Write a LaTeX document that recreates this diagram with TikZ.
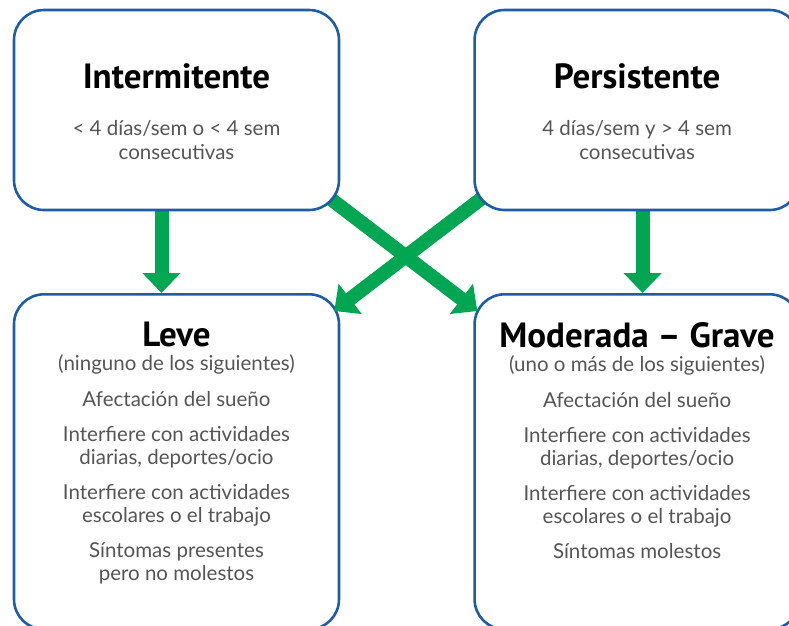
\documentclass[tikz,border=0pt]{standalone}
\usepackage{fontspec}
\setmainfont{Lato}
\newfontfamily\titlefont{PT Sans}
\usetikzlibrary{arrows.meta}
\usetikzlibrary{positioning}
\definecolor{frameblue}{RGB}{28,92,168}
\definecolor{flowgreen}{RGB}{0,166,81}
\definecolor{textgray}{RGB}{85,85,85}
\pgfdeclarelayer{front}
\pgfsetlayers{main,front}
\tikzset{
    panel/.style={
           rectangle,
           rounded corners=30pt,
           draw=frameblue, line width=2.6pt,
           fill=white,
           minimum width=325pt,
           inner sep=0pt,
           },
    content/.style={
           inner sep=0pt, outer sep=0pt,
           text=textgray,
           font=\fontsize{20.5}{23}\selectfont,
           },
    flow/.style={->, draw=flowgreen, line width=14pt},
}
\newcommand{\boxtitle}[1]{{\color{black}\titlefont\bfseries\fontsize{35}{37}\selectfont #1}}

\begin{document}
\begin{tikzpicture}[x=1pt,y=1pt,>={Triangle[width=37pt,length=20pt]}]
 \useasboundingbox (0,0) rectangle (789,-625);
 \clip (0,0) rectangle (789,-625);

 % upper boxes sit on the front layer, the arrows run below them
 \begin{pgfonlayer}{front}
 \node[panel, minimum height=200pt] (INTER) at (176.5,-110) {};
 \node[content, font=\fontsize{20.5}{24}\selectfont, anchor=north] (INTERTXT)
 at ([yshift=-54.8pt]INTER.north)
 {\begin{tabular}{c}
  \boxtitle{Intermitente}\\[23pt]
  < 4 días/sem o < 4 sem\\
  consecutivas
 \end{tabular}};

 \node[panel, minimum height=200pt,
 right=133pt of INTER] (PERS) {};
 \node[content, font=\fontsize{20.5}{24}\selectfont, anchor=north] (PERSTXT)
 at ([yshift=-54.8pt]PERS.north)
 {\begin{tabular}{c}
  \boxtitle{Persistente}\\[23pt]
  4 días/sem y > 4 sem\\
  consecutivas
 \end{tabular}};
 \end{pgfonlayer}

 % lower boxes, taller than the page
 \node[panel, minimum height=335pt, anchor=north] (LEVE) at (176.5,-293) {};
 \node[content, below=29pt of LEVE.north] (LEVETXT)
 {\begin{tabular}{c}
  \boxtitle{Leve}\\[1pt]
  (ninguno de los siguientes)\\[13pt]
  Afectación del sueño\\[12pt]
  Interfiere con actividades\\
  diarias, deportes/ocio\\[12pt]
  Interfiere con actividades\\
  escolares o el trabajo\\[12pt]
  Síntomas presentes\\
  pero no molestos
 \end{tabular}};

 \node[panel, minimum height=335pt,
 right=133pt of LEVE] (MOD) {};
 \node[content, below=29pt of MOD.north] (MODTXT)
 {\begin{tabular}{c}
  \boxtitle{Moderada – Grave}\\[1pt]
  (uno o más de los siguientes)\\[13pt]
  Afectación del sueño\\[12pt]
  Interfiere con actividades\\
  diarias, deportes/ocio\\[12pt]
  Interfiere con actividades\\
  escolares o el trabajo\\[12pt]
  Síntomas molestos
 \end{tabular}};

 % arrows
 \draw[flow] ([xshift=-15pt]INTER.south) -- ([xshift=-15pt]LEVE.north);
 \draw[flow] ([xshift=5.5pt]PERS.south) -- ([xshift=5.5pt]MOD.north);
 \draw[flow] ([shift={(-30pt,28pt)}]INTER.south east) -- ([shift={(4pt,-18pt)}]MOD.north west);
 \draw[flow] ([shift={(28pt,28pt)}]PERS.south west) -- ([shift={(-6pt,-18pt)}]LEVE.north east);
\end{tikzpicture}
\end{document}
